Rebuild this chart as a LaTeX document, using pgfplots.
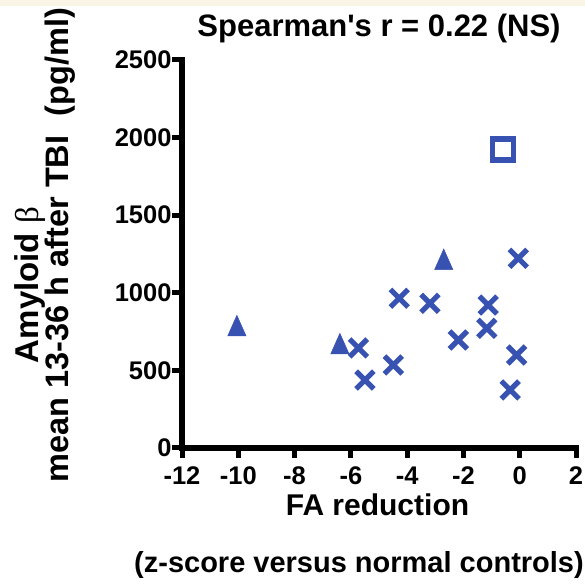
\documentclass[border=0pt]{standalone}
\usepackage{pgfplots}
\pgfplotsset{compat=1.18}
\usepackage{fontspec}
\setmainfont{Liberation Sans}
\newfontfamily\betafont{Liberation Serif}
\definecolor{mkblue}{RGB}{56,82,178}
\definecolor{cream}{RGB}{248,244,230}
\begin{document}
\begin{tikzpicture}
\fill[white] (0,0) rectangle (585bp,588bp);
\fill[cream] (0,582bp) rectangle (585bp,588bp);
\path[use as bounding box] (0,0) rectangle (585bp,588bp);
\begin{axis}[
  at={(182bp,140bp)}, anchor=south west,
  scale only axis, width=394bp, height=388bp,
  xmin=-12, xmax=2, ymin=0, ymax=2500,
  axis lines=left,
  axis line style={-, line width=5bp},
  xtick={-12,-10,...,2}, ytick={0,500,...,2500},
  tick style={line width=4.5bp},
  tick align=outside, major tick length=9bp,
  ticklabel style={font=\fontsize{25.5bp}{30bp}\selectfont\bfseries},
  xticklabel shift=6bp,
  yticklabel shift=-2bp,
  /pgf/number format/assume math mode=true,
  /pgf/number format/1000 sep={},
  clip=false,
]
\addplot[only marks, mark=x, mark size=12.5bp, line width=5.2bp, color=mkblue] coordinates {
  (-0.05,1222) (-4.28,965) (-3.19,932) (-1.12,921) (-1.17,771)
  (-2.18,696) (-0.11,599) (-0.34,374) (-4.49,535) (-5.50,438) (-5.73,645)
};
\addplot[only marks, mark=triangle*, mark size=10.5bp, color=mkblue,
  mark options={yscale=1.3, fill=mkblue, draw=mkblue, line width=0.5bp}] coordinates {
  (-10.05,767) (-6.39,651) (-2.70,1194)
};
\addplot[only marks, mark=square, mark size=10.5bp, line width=5.5bp, color=mkblue] coordinates {
  (-0.59,1923)
};
\end{axis}
% heavy axis lines and ticks drawn as filled bars
\fill[black] (179bp,137bp) rectangle (185bp,530.5bp);
\fill[black] (179bp,137bp) rectangle (578.5bp,143bp);
\foreach \k in {0,...,7} {
  \fill[black] ({(182+56.2857*\k-2.5)*1bp},130bp) rectangle ({(182+56.2857*\k+2.5)*1bp},141bp);
}
\foreach \k in {0,...,5} {
  \fill[black] (172bp,{(140+77.6*\k-2.5)*1bp}) rectangle (183bp,{(140+77.6*\k+2.5)*1bp});
}
\node[font=\fontsize{31bp}{36bp}\selectfont\bfseries, anchor=base] at (379bp,551bp) {Spearman\textquotesingle s r = 0.22 (NS)};
\node[rotate=90, anchor=base, font=\fontsize{33bp}{36bp}\selectfont\bfseries] at (38bp,303bp) {Amyloid {\betafont\mdseries β}};
\node[rotate=90, anchor=base, font=\fontsize{32.5bp}{36bp}\selectfont\bfseries] at (68bp,343bp) {mean 13-36 h after TBI\hspace{0.6em}(pg/ml)};
\node[anchor=base, font=\fontsize{30bp}{34bp}\selectfont\bfseries] at (377.5bp,72bp) {FA reduction};
\node[anchor=base, font=\fontsize{29bp}{34bp}\selectfont\bfseries] at (359bp,16bp) {(z-score versus normal controls)};
\end{tikzpicture}
\end{document}
